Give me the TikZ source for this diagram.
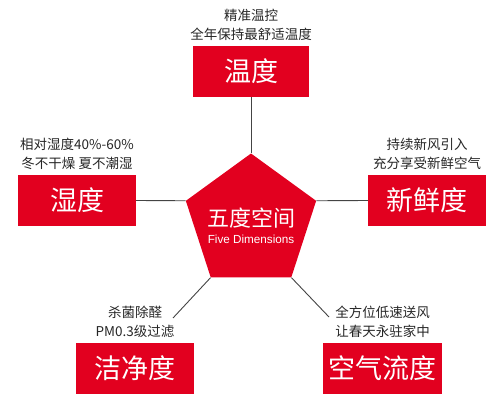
\documentclass[tikz,border=0pt]{standalone}
\usepackage{fontspec}
\setmainfont{Noto Sans CJK SC}
\newfontfamily\latinsans{Liberation Sans}
\usepackage{tikz}
\usepackage{xcolor}
\usetikzlibrary{positioning,shapes.geometric}

\definecolor{brandred}{HTML}{E2001F}
\definecolor{notegray}{HTML}{262626}
\definecolor{linegray}{HTML}{444444}

\begin{document}
\begin{tikzpicture}[
  x=1pt, y=-1pt,
  node distance=5pt,
  dim/.style={fill=brandred, text=white, minimum width=118pt, minimum height=51pt, inner sep=0pt, font=\fontsize{27}{32}\selectfont},
  note/.style={text=notegray, align=center, inner sep=0pt, font=\fontsize{13.5}{19}\selectfont},
  core/.style={regular polygon, regular polygon sides=5, fill=brandred, minimum size=137pt, inner sep=0pt},
  link/.style={draw=linegray, line width=0.9pt}
]
\useasboundingbox (0,0) rectangle (500,406);
% center pentagon
\node[core] (hub) at (251,222) {};
\node[text=white, font=\fontsize{22}{26}\selectfont] (title) at (251,218) {五度空间};
\node[text=white, font=\latinsans\fontsize{11.7}{14}\selectfont] (subtitle) at (251,239) {Five Dimensions};
% five boxes
\node[dim, minimum width=116pt] (temp) at (251,71.5) {温度};
\node[dim] (humid) at (77,200.5) {湿度};
\node[dim] (fresh) at (427,200.5) {新鲜度};
\node[dim] (clean) at (135,368.5) {洁净度};
\node[dim, minimum width=119pt] (flow) at (382.5,368.5) {空气流度};
% notes
\node[note, above=of temp] (tempnote) {精准温控\\全年保持最舒适温度};
\node[note, above=of humid] (humidnote) {相对湿度40\%-60\%\\冬不干燥 夏不潮湿};
\node[note, above=of fresh] (freshnote) {持续新风引入\\充分享受新鲜空气};
\node[note, above=of clean] (cleannote) {杀菌除醛\\PM0.3级过滤};
\node[note, above=of flow] (flownote) {全方位低速送风\\让春天永驻家中};
% connectors
\coordinate (cleanend) at (173,318);
\coordinate (flowend) at (329,317);
\draw[link] (temp.south) -- (hub.corner 1);
\draw[link] (humid.east) -- (hub.corner 2);
\draw[link] (fresh.west) -- (hub.corner 5);
\draw[link] (hub.corner 3) -- (cleanend);
\draw[link] (hub.corner 4) -- (flowend);
\end{tikzpicture}
\end{document}
